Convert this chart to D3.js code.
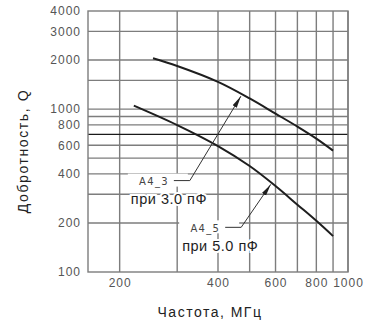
<!DOCTYPE html>
<html lang="ru">
<head>
<meta charset="utf-8">
<title>Добротность от частоты</title>
<script src="https://cdn.jsdelivr.net/npm/d3@7/dist/d3.min.js"></script>
<style>
  body { margin: 0; background: #fff; }
  svg { font-family: "Liberation Sans", Arial, sans-serif; }
  .grid line { stroke: #7d7d7d; stroke-width: 1.4; }
  .curve { fill: none; stroke: #1e1e1e; stroke-width: 2; }
  .tick-label { fill: #555; font-size: 12px; letter-spacing: 1px; }
</style>
</head>
<body>
<script>
/* data */
var freqA43 = [253, 300, 400, 500, 600, 700, 800, 900];
var qA43 = [2050, 1840, 1470, 1163, 938, 781, 659, 556];
var freqA45 = [221, 300, 400, 500, 600, 700, 800, 900];
var qA45 = [1050, 798, 593, 447, 337, 259, 206, 166];

var xGrid = [200, 300, 400, 500, 600, 700, 800, 900, 1000];
var yGrid = [200, 300, 400, 500, 600, 700, 800, 900, 1000, 1500, 2000, 3000];
var xTicks = [200, 400, 600, 800, 1000];
var yTicks = [100, 200, 400, 600, 800, 1000, 2000, 3000, 4000];

var labels = [
  {name: "A4_3", cap: "при 3.0 пФ", tip: [470, 1200], elbow: [328, 364]},
  {name: "A4_5", cap: "при 5.0 пФ", tip: [580, 345], elbow: [471, 188]}
];

var W = 379, H = 325;
var margin = {top: 11, right: 31, bottom: 53, left: 88};
var width = W - margin.left - margin.right;
var height = H - margin.top - margin.bottom;

var x = d3.scaleLog().domain([160, 1000]).range([0, width]);
var y = d3.scaleLog().domain([100, 4000]).range([height, 0]);

var svg = d3.select("body").append("svg")
  .attr("width", W).attr("height", H);
var g = svg.append("g")
  .attr("transform", "translate(" + margin.left + "," + margin.top + ")");

/* grid */
var grid = g.append("g").attr("class", "grid");
grid.selectAll(".v").data(xGrid).enter().append("line")
  .attr("x1", function(d) { return x(d); }).attr("x2", function(d) { return x(d); })
  .attr("y1", 0).attr("y2", height);
grid.selectAll(".h").data(yGrid).enter().append("line")
  .attr("y1", function(d) { return y(d); }).attr("y2", function(d) { return y(d); })
  .attr("x1", 0).attr("x2", width)
  .style("stroke", function(d) { return d == 700 ? "#1a1a1a" : null; })
  .style("stroke-width", function(d) { return d == 700 ? 1.2 : null; });
g.append("rect")
  .attr("width", width).attr("height", height)
  .attr("fill", "none").attr("stroke", "#7d7d7d").attr("stroke-width", 1.4);

/* tick labels */
g.selectAll(".ylab").data(yTicks).enter().append("text")
  .attr("class", "tick-label")
  .attr("x", -7).attr("y", function(d) { return y(d); })
  .attr("dy", "0.36em")
  .attr("text-anchor", "end")
  .text(function(d) { return d; });
g.selectAll(".xlab").data(xTicks).enter().append("text")
  .attr("class", "tick-label")
  .attr("x", function(d) { return x(d) + 0.5; }).attr("y", height + 15)
  .attr("text-anchor", "middle")
  .text(function(d) { return d; });

/* curves */
var line = d3.line()
  .x(function(d) { return x(d[0]); })
  .y(function(d) { return y(d[1]); })
  .curve(d3.curveCatmullRom.alpha(0.5));
g.append("path").attr("class", "curve")
  .attr("d", line(d3.zip(freqA43, qA43)));
g.append("path").attr("class", "curve")
  .attr("d", line(d3.zip(freqA45, qA45)));

/* arrow head */
svg.append("defs").append("marker")
  .attr("id", "arr").attr("viewBox", "0 0 12 6")
  .attr("refX", 12).attr("refY", 3)
  .attr("markerWidth", 12).attr("markerHeight", 6)
  .attr("markerUnits", "userSpaceOnUse")
  .attr("orient", "auto")
  .append("path").attr("d", "M0,0.6 L12,3 L0,5.4 Z").attr("fill", "#1e1e1e");

/* annotations */
labels.forEach(function(l) {
  var ex = x(l.elbow[0]), ey = y(l.elbow[1]);
  var tx = x(l.tip[0]), ty = y(l.tip[1]);
  var a = g.append("g");
  a.append("rect")
    .attr("x", ex - 62).attr("y", ey - 7)
    .attr("width", 60).attr("height", 13)
    .attr("fill", "#fff");
  a.append("path")
    .attr("d", "M" + (ex - 16) + "," + ey + "H" + ex + "L" + tx + "," + ty)
    .attr("fill", "none").attr("stroke", "#333").attr("stroke-width", 1)
    .attr("marker-end", "url(#arr)");
  a.append("text")
    .attr("x", ex - 21).attr("y", ey + 4.5)
    .attr("text-anchor", "end")
    .style("font-family", "'DejaVu Sans', sans-serif")
    .style("font-size", "10px").style("letter-spacing", "1.3px")
    .attr("fill", "#444")
    .text(l.name);
  a.append("text")
    .attr("x", ex - 59).attr("y", ey + 23.5)
    .style("font-size", "14.5px").style("letter-spacing", "0.5px")
    .attr("fill", "#1e1e1e")
    .attr("stroke", "#fff").attr("stroke-width", 4)
    .attr("paint-order", "stroke")
    .text(l.cap);
});

/* axis titles */
svg.append("text")
  .attr("x", 210).attr("y", 316.5)
  .attr("text-anchor", "middle")
  .style("font-size", "14px").style("letter-spacing", "1.5px")
  .attr("fill", "#222")
  .text("Частота, МГц");
svg.append("text")
  .attr("transform", "translate(28,151) rotate(-90)")
  .attr("text-anchor", "middle")
  .style("font-size", "14px").style("letter-spacing", "1.6px")
  .attr("fill", "#222")
  .text("Добротность, Q");
</script>
</body>
</html>
